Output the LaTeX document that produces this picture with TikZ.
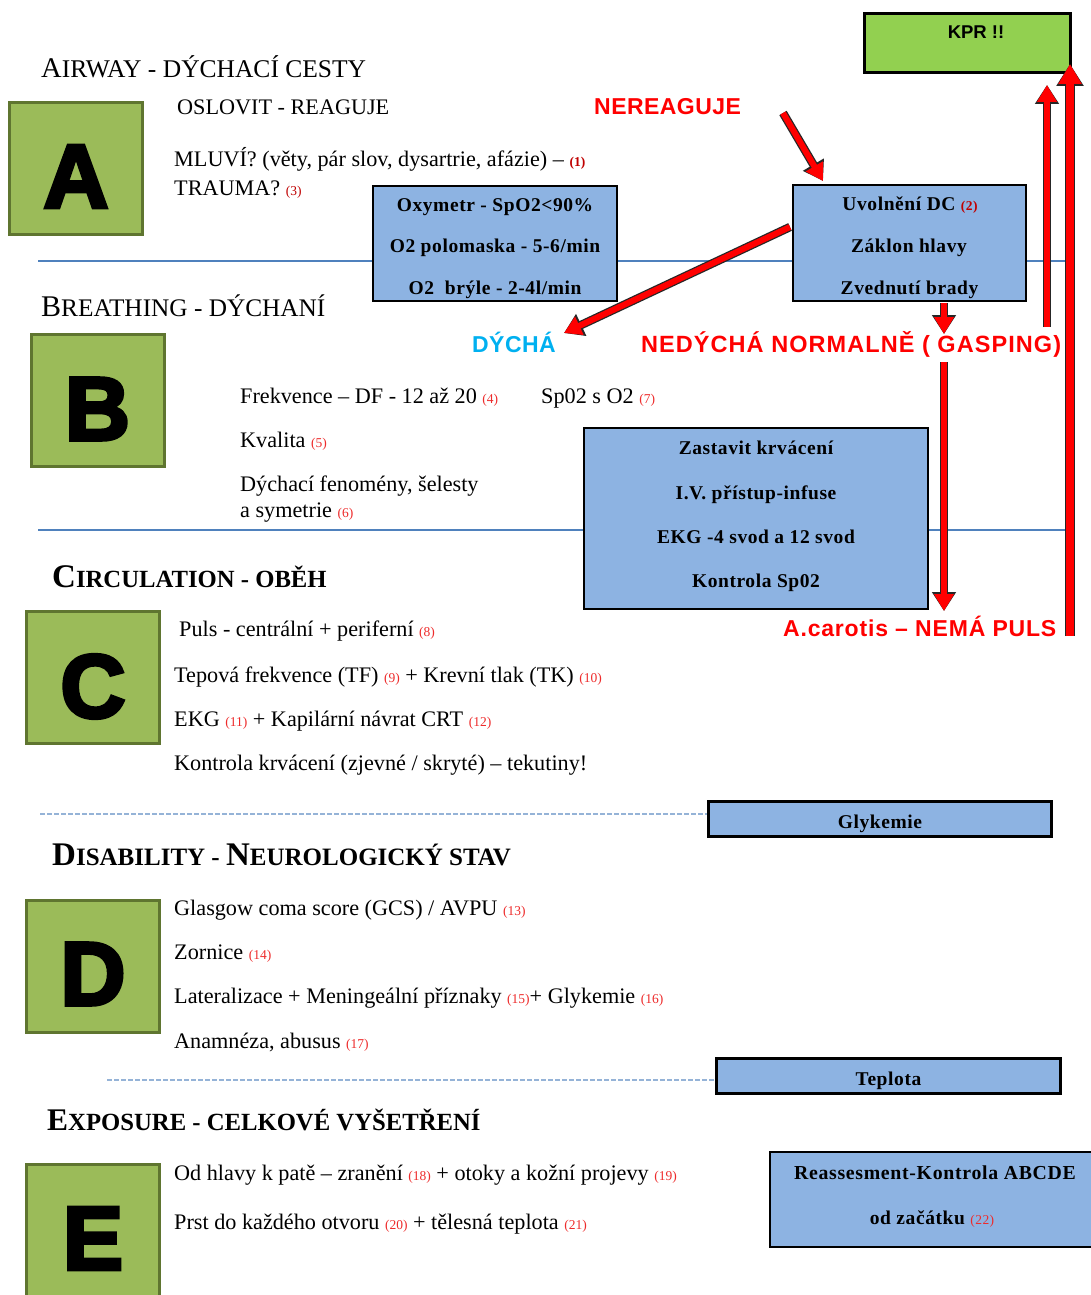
\documentclass[tikz,border=0pt]{standalone}
\usepackage{fontspec}
\setmainfont{Liberation Serif}
\newfontfamily\sansf{Liberation Sans}
\newfontfamily\heavyf[FakeBold=4]{Liberation Sans Bold}
\usetikzlibrary{arrows.meta}
\definecolor{lgreen}{HTML}{9BBB59}
\definecolor{dgreen}{HTML}{5F7530}
\definecolor{bfill}{HTML}{8DB3E2}
\definecolor{kgreen}{HTML}{92D050}
\definecolor{sline}{HTML}{4F81BD}
\definecolor{dline}{HTML}{95B3D7}
\definecolor{cyanl}{HTML}{00B0F0}
\definecolor{numred}{HTML}{EE2B2B}
\definecolor{numdred}{HTML}{C00000}
\newcommand\fs[1]{\fontsize{#1}{#1}\selectfont}
\newcommand\nr[1]{{\fs{13.5}\textcolor{numred}{(#1)}}}
\newcommand\nrb[1]{{\fs{13.5}\bfseries\textcolor{numdred}{(#1)}}}
\newcommand\nrd[1]{{\fs{13.5}\textcolor{numdred}{(#1)}}}
\newcommand\ls[1]{\addfontfeatures{LetterSpace=#1}}
\begin{document}
\begin{tikzpicture}[x=1pt,y=-1pt,
 lbox/.style={draw=dgreen, line width=3pt, fill=lgreen, minimum width=133pt, minimum height=132pt, inner sep=0pt},
 bigl/.style={font=\heavyf\fs{90}, inner sep=0pt, anchor=center},
 bbox/.style={draw=black, line width=2pt, fill=bfill, inner sep=0pt},
 btxt/.style={font=\bfseries\fs{19.5}\ls{3}, anchor=base, inner sep=0pt},
 txt/.style={font=\fs{22.2}, anchor=base west, inner sep=0pt},
 head/.style={anchor=base west, inner sep=0pt},
 rlab/.style={font=\sansf\bfseries\fs{23}\ls{2}, text=red, anchor=base west, inner sep=0pt},
 sepl/.style={draw=sline, line width=2.5pt},
 dashl/.style={draw=dline, line width=1.2pt, dash pattern=on 5pt off 2pt},
 redarr/.style={draw=red, line width=6pt, -{Triangle[length=17pt,width=19pt]},
   preaction={draw=black!85, line width=8.5pt, -{Triangle[length=19pt,width=23pt]}}},
 bigarr/.style={draw=red, line width=8pt, -{Triangle[length=20pt,width=22pt]},
   preaction={draw=black!85, line width=10.5pt, -{Triangle[length=22pt,width=26pt]}}}
]
\path[clip] (0,0) rectangle (1091,1295);
\fill[white] (0,0) rectangle (1091,1295);

% separator lines
\draw[sepl] (38,261) -- (1065,261);
\draw[sepl] (38,530) -- (1065,530);
\draw[dashl] (40,814) -- (707,814);
\draw[dashl] (107,1080) -- (715,1080);

% headings
\node[head] (hA) at (41,78) {{\fs{28.5}A}{\fs{25.5}IRWAY - DÝCHACÍ CESTY}};
\node[head] (hB) at (41,316) {{\fs{30}B}{\fs{25.3}REATHING - DÝCHANÍ}};
\node[head, font=\bfseries] (hC) at (52,587) {{\fs{33}C}{\fs{24.7}IRCULATION - OBĚH}};
\node[head, font=\bfseries] (hD) at (52,865) {{\fs{33}D}{\fs{25}ISABILITY - }{\fs{33}N}{\fs{25}EUROLOGICKÝ STAV}};
\node[head, font=\bfseries] (hE) at (47,1130) {{\fs{31.5}E}{\fs{24.7}XPOSURE - CELKOVÉ VYŠETŘENÍ}};

% letter boxes
\node[lbox] (boxA) at (76,168.5) {};
\node[bigl] (letA) at (76,176.5) {A};
\node[lbox] (boxB) at (97.5,400) {};
\node[bigl] (letB) at (97.5,409) {B};
\node[lbox] (boxC) at (93,677.5) {};
\node[bigl] (letC) at (93,686.5) {C};
\node[lbox] (boxD) at (93,966) {};
\node[bigl] (letD) at (93,974) {D};
\node[lbox, minimum height=144pt] (boxE) at (93,1236.5) {};
\node[bigl] (letE) at (93,1238.5) {E};

% A texts
\node[txt] (a1) at (177,115) {OSLOVIT - REAGUJE};
\node[txt] (a2) at (174,166) {MLUVÍ? (věty, pár slov, dysartrie, afázie) – \nrb{1}};
\node[txt] (a3) at (174,195) {TRAUMA? \nrd{3}};

% B texts
\node[txt] (b1) at (240,403) {Frekvence – DF - 12 až 20 \nr{4}};
\node[txt] (b2) at (541,403) {Sp02 s O2 \nr{7}};
\node[txt] (b3) at (240,447) {Kvalita \nr{5}};
\node[txt] (b4) at (240,491) {Dýchací fenomény, šelesty};
\node[txt] (b5) at (240,517) {a symetrie \nr{6}};

% C texts
\node[txt] (c1) at (179,636) {Puls - centrální + periferní \nr{8}};
\node[txt] (c2) at (174,682) {Tepová frekvence (TF) \nr{9} + Krevní tlak (TK) \nr{10}};
\node[txt] (c3) at (174,726) {EKG \nr{11} + Kapilární návrat CRT \nr{12}};
\node[txt] (c4) at (174,770) {Kontrola krvácení (zjevné / skryté) – tekutiny!};

% D texts
\node[txt] (d1) at (174,915) {Glasgow coma score (GCS) / AVPU \nr{13}};
\node[txt] (d2) at (174,959) {Zornice \nr{14}};
\node[txt] (d3) at (174,1003) {Lateralizace + Meningeální příznaky \nr{15}+ Glykemie \nr{16}};
\node[txt] (d4) at (174,1048) {Anamnéza, abusus \nr{17}};

% E texts
\node[txt] (e1) at (174,1180) {Od hlavy k patě – zranění \nr{18} + otoky a kožní projevy \nr{19}};
\node[txt] (e2) at (174,1229) {Prst do každého otvoru \nr{20} + tělesná teplota \nr{21}};

% blue boxes
\node[bbox, minimum width=244pt, minimum height=115pt] (oxy) at (495,243.5) {};
\node[btxt] (oxy1) at (495,211) {Oxymetr - SpO2<90\%};
\node[btxt] (oxy2) at (495,252) {O2 polomaska - 5-6/min};
\node[btxt] (oxy3) at (495,294) {O2\ \ brýle - 2-4l/min};

\node[bbox, minimum width=233pt, minimum height=116pt] (uvol) at (909.5,243) {};
\node[btxt] (uv1) at (910,210) {Uvolnění DC {\fs{13.5}\textcolor{numdred}{(2)}}};
\node[btxt] (uv2) at (909,252) {Záklon hlavy};
\node[btxt] (uv3) at (909.5,294) {Zvednutí brady};

\node[bbox, minimum width=344pt, minimum height=181pt] (zast) at (756,518.5) {};
\node[btxt] (z1) at (756,454) {Zastavit krvácení};
\node[btxt] (z2) at (756,499) {I.V. přístup-infuse};
\node[btxt] (z3) at (756,543) {EKG -4 svod a 12 svod};
\node[btxt] (z4) at (756,587) {Kontrola Sp02};

\node[bbox, fill=kgreen, line width=2.5pt, minimum width=206pt, minimum height=59pt] (kpr) at (967.5,43) {};
\node[inner sep=0pt, anchor=base, font=\sansf\bfseries\fs{18.5}] (kprt) at (976,38.5) {KPR !!};

\node[bbox, line width=2.5pt, minimum width=343pt, minimum height=35pt] (glyk) at (880,819) {};
\node[btxt] (glykt) at (880,828) {Glykemie};
\node[bbox, line width=2.5pt, minimum width=344pt, minimum height=35pt] (tepl) at (888.5,1076) {};
\node[btxt] (teplt) at (888.5,1085) {Teplota};
\node[bbox, line width=2.5pt, minimum width=324pt, minimum height=95pt] (reas) at (932,1199.5) {};
\node[btxt, font=\bfseries\fs{19.8}\ls{3.5}] (r1) at (935,1179) {Reassesment-Kontrola ABCDE};
\node[btxt] (r2) at (932,1224) {od začátku {\mdseries\nr{22}}};

% red labels
\node[rlab] (nereag) at (594,115) {NEREAGUJE};
\node[rlab, text=cyanl] (dycha) at (472,352) {DÝCHÁ};
\node[rlab, font=\sansf\bfseries\fs{23.5}\ls{4.5}] (nedycha) at (641,352) {NEDÝCHÁ NORMALNĚ ( GASPING)};
\node[rlab, font=\sansf\bfseries\fs{23}\ls{3.5}] (carotis) at (783,636) {A.carotis – NEMÁ PULS};

% arrows
\coordinate (ntail) at (783,113);
\coordinate (ntip) at (823,181);
\draw[redarr] (ntail) -- (ntip);
\coordinate (uvl) at (790,227);
\coordinate (dtip) at (564,333);
\draw[redarr] (uvl) -- (dtip);
\coordinate (s1a) at (944,303);
\coordinate (s1b) at (944,334);
\draw[redarr] (s1a) -- (s1b);
\coordinate (s2a) at (944,362);
\coordinate (s2b) at (944,611);
\draw[redarr] (s2a) -- (s2b);
\coordinate (u1a) at (1047,327);
\coordinate (u1b) at (1047,85);
\draw[redarr] (u1a) -- (u1b);
\coordinate (u2a) at (1070,636);
\coordinate (u2b) at (1070,64);
\draw[bigarr] (u2a) -- (u2b);
\end{tikzpicture}
\end{document}
